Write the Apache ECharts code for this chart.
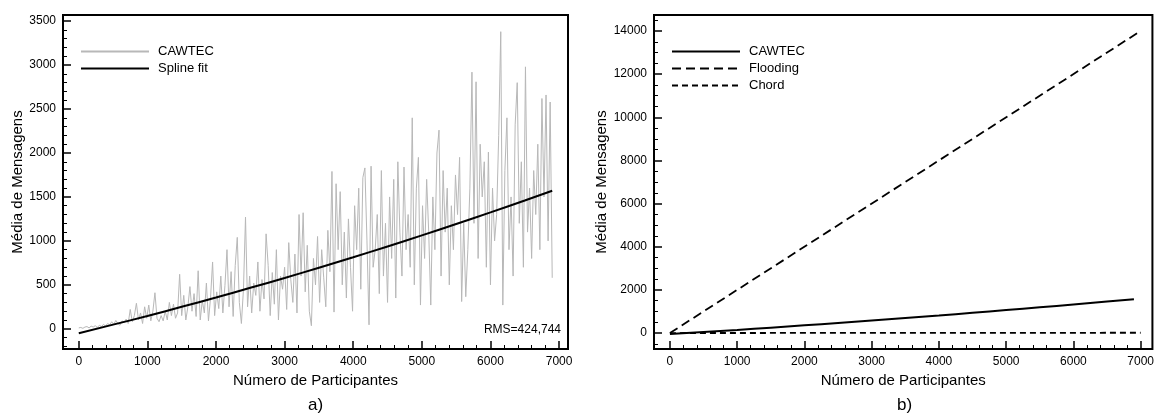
<!DOCTYPE html>
<html>
<head>
<meta charset="utf-8">
<title>CAWTEC</title>
<script src="https://cdn.jsdelivr.net/npm/echarts@6/dist/echarts.min.js"></script>
<style>
  html, body { margin: 0; padding: 0; background: #fff; }
  #chart { width: 1157px; height: 418px; }
</style>
</head>
<body>
<div id="chart"></div>
<script>
// CAWTEC media de mensagens, amostras a cada 30 participantes (0 .. 6900)
const cawtecStep = 30
const cawtecValues = [
  10, 15, 5, 20, 25, 10, 30, 20, 35, 15,
  40, 25, 50, 30, 60, 45, 80, 50, 95, 60,
  40, 90, 70, 110, 60, 220, 80, 150, 290, 100,
  180, 60, 250, 120, 270, 90, 200, 410, 120, 80,
  150, 90, 200, 100, 300, 150, 280, 120, 180, 620,
  150, 380, 100, 250, 480, 200, 400, 140, 660, 100,
  320, 180, 520, 90, 350, 760, 150, 420, 230, 600,
  180, 490, 900, 250, 650, 140, 720, 1040, 300, 60,
  450, 1270, 250, 600, 180, 520, 380, 760, 200, 560,
  340, 1080, 720, 150, 640, 280, 900, 100, 600, 450,
  700, 220, 980, 560, 300, 850, 180, 1300, 600, 1320,
  420, 950, 200, 35, 800, 500, 1050, 300, 900, 580,
  250, 1120, 650, 1790, 190, 1650, 900, 1560, 500, 1100,
  350, 1250, 700, 200, 1400, 900, 1600, 450, 1720, 1830,
  1000, 45, 1850, 700, 900, 1300, 400, 1800, 600, 1200,
  300, 1500, 800, 1700, 350, 1900, 1100, 600, 1840, 900,
  1300, 700, 2400, 500, 1600, 1950, 270, 1400, 800, 1700,
  1100, 270, 1500, 900, 2000, 2260, 600, 1800, 1100, 1600,
  500, 1400, 900, 1750, 1300, 1950, 310, 1200, 365, 900,
  1600, 2920, 1200, 2810, 800, 2100, 1500, 1900, 700, 2010,
  500, 1600, 1000, 1300, 2200, 3380, 270, 1800, 2400, 900,
  1500, 600, 2320, 2800, 1200, 1900, 700, 2980, 1100, 1600,
  800, 1800, 1300, 2100, 900, 2620, 1500, 2660, 1000, 2580,
  580
]
// curva de ajuste (spline)
const splineX = [0, 500, 1000, 1500, 2000, 2500, 3000, 3500, 4000, 4500, 5000, 5500, 6000, 6500, 6900]
const splineY = [-50, 47, 146, 250, 356, 466, 578, 695, 814, 937, 1063, 1192, 1324, 1460, 1570]
// comparacao b)
const floodingX = [0, 7000]
const floodingY = [0, 14000]
const chordX = [0, 7000]
const chordY = [0, 13]
// ticks
const xTicks = [0, 1000, 2000, 3000, 4000, 5000, 6000, 7000]
const yTicksA = [0, 500, 1000, 1500, 2000, 2500, 3000, 3500]
const yTicksB = [0, 2000, 4000, 6000, 8000, 10000, 12000, 14000]

const FONT = 'Liberation Sans, Arial, Helvetica, sans-serif'

// marcas menores entre as maiores
function minorTicks(from, to, step, majors) {
  const out = []
  for (let v = from; v <= to; v += step) {
    if (majors.indexOf(v) < 0) out.push(v)
  }
  return out
}

const cawtecData = cawtecValues.map((v, i) => [i * cawtecStep, v])
const splineData = splineX.map((x, i) => [x, splineY[i]])
const floodingData = floodingX.map((x, i) => [x, floodingY[i]])
const chordData = chordX.map((x, i) => [x, chordY[i]])

const labelStyle = { color: '#000', fontSize: 12, fontFamily: FONT, formatter: v => String(v) }
const nameStyle = { color: '#000', fontSize: 15, fontFamily: FONT }

// eixo com marcas maiores e rotulos
function majorAxis(grid, pos, min, max, ticks, name, nameGap) {
  return {
    type: 'value', gridIndex: grid, position: pos, min: min, max: max,
    name: name, nameGap: nameGap, nameLocation: 'middle', nameTextStyle: nameStyle,
    axisLine: { show: false, onZero: false },
    splitLine: { show: false },
    axisTick: { show: true, inside: true, length: 8, customValues: ticks, lineStyle: { color: '#000', width: 1.5 } },
    axisLabel: Object.assign({ margin: 7, customValues: ticks }, labelStyle)
  }
}
// eixo sobreposto so com as marcas menores
function minorAxis(grid, pos, min, max, ticks) {
  return {
    type: 'value', gridIndex: grid, position: pos, min: min, max: max,
    axisLine: { show: false, onZero: false },
    splitLine: { show: false },
    axisLabel: { show: false },
    axisTick: { show: true, inside: true, length: 4, customValues: ticks, lineStyle: { color: '#000', width: 1 } }
  }
}

const chart = echarts.init(document.getElementById('chart'))

const legendBase = {
  orient: 'vertical', padding: 0, itemWidth: 68, itemHeight: 10, itemGap: 4,
  itemStyle: { opacity: 0, color: 'rgba(0,0,0,0)', borderWidth: 0 },
  textStyle: { color: '#000', fontSize: 13, fontFamily: FONT, padding: [0, 0, 0, 4] }
}

const option = {
  animation: false,
  backgroundColor: '#fff',
  textStyle: { fontFamily: FONT },
  grid: [
    { left: 63, top: 15, width: 505, height: 334, show: true, borderColor: '#000', borderWidth: 2 },
    { left: 654, top: 15, width: 501, height: 334, show: true, borderColor: '#000', borderWidth: 2 }
  ],
  xAxis: [
    majorAxis(0, 'bottom', -230, 7130, xTicks, 'Número de Participantes', 24),
    minorAxis(0, 'bottom', -230, 7130, minorTicks(0, 7000, 200, xTicks)),
    majorAxis(1, 'bottom', -237, 7175, xTicks, 'Número de Participantes', 24),
    minorAxis(1, 'bottom', -237, 7175, minorTicks(0, 7000, 200, xTicks))
  ],
  yAxis: [
    majorAxis(0, 'left', -230, 3570, yTicksA, 'Média de Mensagens', 33),
    minorAxis(0, 'left', -230, 3570, minorTicks(-200, 3500, 100, yTicksA)),
    majorAxis(1, 'left', -740, 14740, yTicksB, 'Média de Mensagens', 39),
    minorAxis(1, 'left', -740, 14740, minorTicks(-500, 14500, 500, yTicksB))
  ],
  legend: [
    Object.assign({}, legendBase, { left: 80, top: 45, data: ['CAWTEC', 'Spline fit'] }),
    Object.assign({}, legendBase, {
      left: 671, top: 45,
      data: [
        { name: 'CAWTEC ', lineStyle: { color: '#000', width: 2, type: 'solid' } },
        'Flooding',
        'Chord'
      ]
    })
  ],
  series: [
    {
      name: 'CAWTEC', type: 'line', xAxisIndex: 0, yAxisIndex: 0, data: cawtecData,
      symbol: 'none', lineStyle: { color: '#b8b8b8', width: 1 }, itemStyle: { color: '#b8b8b8' }
    },
    {
      name: 'Spline fit', type: 'line', xAxisIndex: 0, yAxisIndex: 0, data: splineData, smooth: true,
      symbol: 'none', lineStyle: { color: '#000', width: 2 }, itemStyle: { color: '#000' }
    },
    {
      name: 'CAWTEC ', type: 'line', xAxisIndex: 2, yAxisIndex: 2, data: splineData, smooth: true,
      symbol: 'none', lineStyle: { color: '#000', width: 2 }, itemStyle: { color: '#000' }
    },
    {
      name: 'Flooding', type: 'line', xAxisIndex: 2, yAxisIndex: 2, data: floodingData,
      symbol: 'none', lineStyle: { color: '#000', width: 1.8, type: [9, 5] }, itemStyle: { color: '#000' }
    },
    {
      name: 'Chord', type: 'line', xAxisIndex: 2, yAxisIndex: 2, data: chordData,
      symbol: 'none', lineStyle: { color: '#000', width: 1.8, type: [6, 4] }, itemStyle: { color: '#000' }
    }
  ],
  graphic: [
    { type: 'text', right: 1157 - 561, top: 324,
      style: { text: 'RMS=424,744', fill: '#000', font: '12px ' + FONT, textAlign: 'right' } },
    { type: 'text', left: 308, top: 397,
      style: { text: 'a)', fill: '#000', font: '17px ' + FONT } },
    { type: 'text', left: 897, top: 397,
      style: { text: 'b)', fill: '#000', font: '17px ' + FONT } }
  ]
}

chart.setOption(option)
</script>
</body>
</html>
